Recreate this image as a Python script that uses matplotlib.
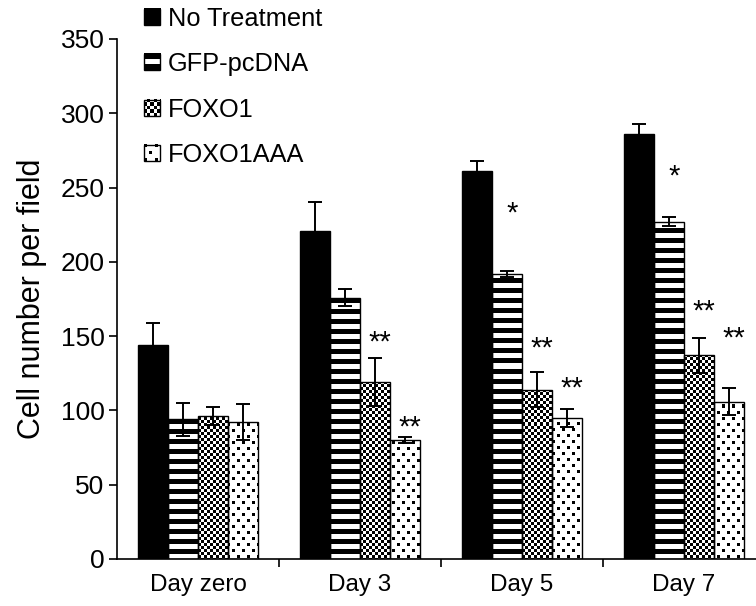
import numpy as np
import matplotlib
matplotlib.use("Agg")
import matplotlib.pyplot as plt
from matplotlib.legend_handler import HandlerBase
from matplotlib.image import BboxImage
from matplotlib.transforms import Bbox, TransformedBbox
from matplotlib.patches import Rectangle, Patch

days = ["Day zero", "Day 3", "Day 5", "Day 7"]
series_names = ["No Treatment", "GFP-pcDNA", "FOXO1", "FOXO1AAA"]
no_treatment = [144, 221, 261, 286]
no_treatment_err = [15, 19, 7, 7]
gfp_pcdna = [94, 176, 192, 227]
gfp_pcdna_err = [11, 6, 2, 3]
foxo1 = [96, 119, 114, 137]
foxo1_err = [6, 16, 12, 12]
foxo1aaa = [92, 80, 95, 106]
foxo1aaa_err = [12, 2, 6, 9]

# significance marks: day index, series index, height of the mark, text
star_day = [1, 1, 2, 2, 2, 3, 3, 3]
star_series = [2, 3, 1, 2, 3, 1, 2, 3]
star_height = [151, 94, 238, 147, 120, 263, 172, 154]
star_label = ["**", "**", "*", "**", "**", "*", "**", "**"]

FONT = "Liberation Sans"
W_PX, H_PX = 756, 606
AX_L, AX_R, AX_B, AX_T = 117, 765, 559, 39   # axes box in pixels
BAR_W = 30 / 162


def texture(kind, h, w):
    """Excel-like fill pattern, 1 = black, in pixel units."""
    r, c = np.mgrid[0:h, 0:w]
    if kind == "solid":
        return np.ones((h, w))
    if kind == "stripes":
        return ((r % 10) < 5).astype(float)
    if kind == "checker":
        return (((r // 3) + (c // 3)) % 2).astype(float)
    a = ((r % 12) < 3) & ((c % 10) < 3)
    b = (((r + 6) % 12) < 3) & (((c + 5) % 10) < 3)
    return (a | b).astype(float)


class TextureHandler(HandlerBase):
    def __init__(self, kind):
        super().__init__()
        self.kind = kind

    def create_artists(self, legend, orig_handle, xdescent, ydescent,
                       width, height, fontsize, trans):
        box = Bbox.from_bounds(-xdescent, -ydescent, width, height)
        img = BboxImage(TransformedBbox(box, trans), cmap="gray_r",
                        norm=plt.Normalize(0, 1), interpolation="nearest")
        img.set_data(texture(self.kind, 15, 16))
        frame = Rectangle((-xdescent, -ydescent), width, height,
                          facecolor="none", edgecolor="black", lw=1.0,
                          transform=trans)
        return [img, frame]


def main():
    plt.rcParams["font.family"] = FONT
    fig = plt.figure(figsize=(W_PX / 100, H_PX / 100), dpi=100)
    ax = fig.add_axes([AX_L / W_PX, 1 - AX_B / H_PX,
                       (AX_R - AX_L) / W_PX, (AX_B - AX_T) / H_PX])

    values = [no_treatment, gfp_pcdna, foxo1, foxo1aaa]
    errors = [no_treatment_err, gfp_pcdna_err, foxo1_err, foxo1aaa_err]
    kinds = ["solid", "stripes", "checker", "dots"]
    x = np.arange(len(days))
    offsets = (np.arange(4) - 1.5) * BAR_W
    xlim, ylim = (-0.5, 3.5), (0, 350)
    big = {k: texture(k, AX_B - AX_T, AX_R - AX_L) for k in kinds}

    for i in range(4):
        bars = ax.bar(x + offsets[i], values[i], BAR_W,
                      facecolor="black" if i == 0 else "none",
                      edgecolor="black", lw=1.0, zorder=3)
        ax.errorbar(x + offsets[i], values[i], yerr=errors[i], fmt="none",
                    ecolor="black", elinewidth=1.4, capsize=5, capthick=1.4,
                    zorder=4)
        if i == 0:
            continue
        for bar in bars:
            im = ax.imshow(big[kinds[i]], cmap="gray_r", vmin=0, vmax=1,
                           extent=(*xlim, *ylim), interpolation="nearest",
                           aspect="auto", zorder=2)
            im.set_clip_path(bar)

    for d, s, h, lab in zip(star_day, star_series, star_height, star_label):
        ax.annotate(lab, (x[d] + offsets[s] + 0.03, h), xytext=(0, -11.5),
                    textcoords="offset points", ha="center", va="baseline",
                    fontsize=21)

    ax.set_xlim(*xlim)
    ax.set_ylim(*ylim)
    ax.set_yticks(np.arange(0, 351, 50))
    ax.set_xticks(x[:-1] + 0.5)
    ax.set_xticklabels([])
    ax.set_xticks(x, minor=True)
    ax.set_xticklabels(days, minor=True, fontsize=17.5)
    ax.tick_params(axis="x", which="major", direction="out", length=6, width=1.2)
    ax.tick_params(axis="x", which="minor", length=0, pad=11)
    ax.tick_params(axis="y", direction="out", length=6, width=1.2,
                   labelsize=19, pad=3)
    for side in ("top", "right"):
        ax.spines[side].set_visible(False)
    for side in ("left", "bottom"):
        ax.spines[side].set_linewidth(1.2)
    ax.set_ylabel("Cell number per field", fontsize=22, labelpad=10)

    proxies = [Patch() for _ in kinds]
    fig.legend(proxies, series_names, loc="upper left",
               bbox_to_anchor=(144 / W_PX, 1 - 7 / H_PX), frameon=False,
               fontsize=18.3, handlelength=0.64, handleheight=0.6,
               handletextpad=0.3, labelspacing=0.84, borderpad=0,
               borderaxespad=0,
               handler_map={p: TextureHandler(k) for p, k in zip(proxies, kinds)})

    fig.savefig("out.png", dpi=100)
    plt.close(fig)


if __name__ == "__main__":
    main()
